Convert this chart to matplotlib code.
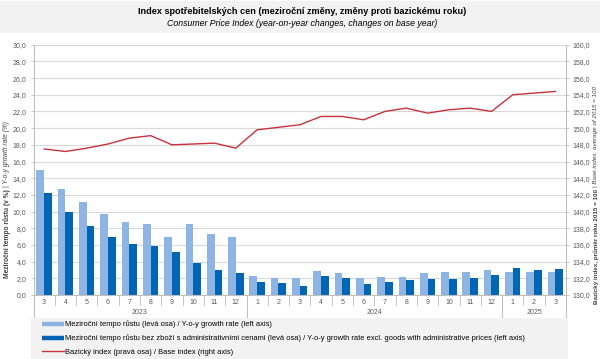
import matplotlib
matplotlib.use("Agg")
import matplotlib.pyplot as plt
import matplotlib.transforms as mtransforms
from matplotlib.patches import Rectangle
from matplotlib.lines import Line2D
from matplotlib.ticker import FuncFormatter, MultipleLocator

plt.rcParams['font.family'] = ['Liberation Sans', 'DejaVu Sans']

months = ['3', '4', '5', '6', '7', '8', '9', '10', '11', '12',
          '1', '2', '3', '4', '5', '6', '7', '8', '9', '10', '11', '12',
          '1', '2', '3']
years = ['2023', '2024', '2025']
year_counts = [10, 12, 3]

yoy = [15.0, 12.7, 11.1, 9.7, 8.8, 8.5, 6.9, 8.5, 7.3, 6.9,
       2.3, 2.0, 2.0, 2.9, 2.6, 2.0, 2.2, 2.2, 2.6, 2.8, 2.8, 3.0,
       2.8, 2.7, 2.7]
yoy_excl = [12.2, 10.0, 8.3, 7.0, 6.1, 5.9, 5.2, 3.8, 3.0, 2.6,
            1.6, 1.4, 1.1, 2.3, 2.0, 1.3, 1.6, 1.8, 1.9, 1.9, 2.0, 2.4,
            3.2, 3.0, 3.1]
base_index = [147.5, 147.2, 147.6, 148.1, 148.8, 149.1, 148.0, 148.1, 148.2, 147.6,
              149.8, 150.1, 150.4, 151.4, 151.4, 151.0, 152.0, 152.4, 151.8, 152.2, 152.4, 152.0,
              154.0, 154.2, 154.4]

title_cz = 'Index spotřebitelských cen (meziroční změny, změny proti bazickému roku)'
title_en = 'Consumer Price Index (year-on-year changes, changes on base year)'
leg_labels = ['Meziroční tempo růstu (levá osa) / Y-o-y growth rate (left axis)',
              'Meziroční tempo růstu bez zboží s administrativními cenami (levá osa) / Y-o-y growth rate excl. goods with administrative prices (left axis)',
              'Bazický index (pravá osa) / Base index (right axis)']

C_LIGHT = '#8DB4E2'
C_DARK = '#0066B3'
C_RED = '#C8323C'
C_GRID = '#D9D9D9'
C_TXT = '#595959'
C_SEP = '#BFBFBF'

W, H = 604, 359
fig = plt.figure(figsize=(W / 100, H / 100), dpi=100)

# Title band
fig.patches.append(Rectangle((0, 1 - 33 / H), 600 / W, 32 / H, transform=fig.transFigure,
                             facecolor='#F2F2F2', edgecolor='none', zorder=0))
fig.text(302 / W, 1 - 12 / H, title_cz, ha='center', va='center', fontsize=6.6, fontweight='bold')
fig.text(302 / W, 1 - 24 / H, title_en, ha='center', va='center', fontsize=6.3, style='italic')

left, right, top, bottom = 33.5, 566, 44.7, 295
ax = fig.add_axes([left / W, 1 - bottom / H, (right - left) / W, (bottom - top) / H])
x = list(range(len(months)))
bw = 0.36
ax.bar([i - bw / 2 for i in x], yoy, width=bw, color=C_LIGHT, zorder=2)
ax.bar([i + bw / 2 for i in x], yoy_excl, width=bw, color=C_DARK, zorder=2)
ax.set_xlim(-0.5, len(months) - 0.5)
ax.set_ylim(0, 30)
ax.yaxis.set_major_locator(MultipleLocator(2))
fmt = FuncFormatter(lambda v, p: f'{v:.1f}'.replace('.', ','))
ax.yaxis.set_major_formatter(fmt)
ax.grid(axis='y', color=C_GRID, linewidth=0.8, zorder=0)
ax.set_axisbelow(True)
for s in ['top', 'right']:
    ax.spines[s].set_visible(False)
ax.spines['left'].set_color(C_SEP)
ax.spines['left'].set_linewidth(0.8)
ax.spines['bottom'].set_color(C_SEP)
ax.spines['bottom'].set_linewidth(0.8)
ax.tick_params(axis='y', labelsize=5, colors=C_TXT, length=2.5, width=0.6, color=C_SEP, pad=2.5)
ax.set_xticks(x)
ax.set_xticklabels(months)
ax.tick_params(axis='x', labelsize=5, colors=C_TXT, length=0, pad=3)

ax2 = ax.twinx()
ax2.plot(x, base_index, color=C_RED, linewidth=1.0, zorder=3)
ax2.set_ylim(130, 160)
ax2.yaxis.set_major_locator(MultipleLocator(2))
ax2.yaxis.set_major_formatter(fmt)
for s in ['top', 'left', 'bottom']:
    ax2.spines[s].set_visible(False)
ax2.spines['right'].set_color(C_SEP)
ax2.spines['right'].set_linewidth(0.8)
ax2.tick_params(axis='y', labelsize=5, colors=C_TXT, length=2.5, width=0.6, color=C_SEP, pad=2)

# multi-level category separators
trans = mtransforms.blended_transform_factory(ax.transData, ax.transAxes)
ah = bottom - top
def ay(px):
    return -(px - bottom) / ah
for b in range(1, len(months)):
    ax.plot([b - 0.5, b - 0.5], [0, ay(305)], transform=trans, color=C_SEP, lw=0.6, clip_on=False)
start = 0
bounds = [-0.5]
for yr, n in zip(years, year_counts):
    ax.text(start + n / 2 - 0.5, ay(313), yr, transform=trans, ha='center', va='center',
            fontsize=5, color=C_TXT)
    start += n
    bounds.append(start - 0.5)
for b in bounds:
    ax.plot([b, b], [0, ay(317)], transform=trans, color=C_SEP, lw=0.8, clip_on=False)

# axis titles (rotated, two-part)
fig.text(7 / W, 1 - 187 / H, 'Meziroční tempo růstu (v %) ', rotation=90, ha='center', va='top',
         fontsize=4.8, fontweight='bold', color='#404040')
fig.text(7 / W, 1 - 187 / H, '| Y-o-y growth rate (%)', rotation=90, ha='center', va='bottom',
         fontsize=4.8, style='italic', color='#404040')
fig.text(596 / W, 1 - 187 / H, 'Bazický index, průměr roku 2015 = 100 ', rotation=90, ha='center', va='top',
         fontsize=4.5, fontweight='bold', color='#404040')
fig.text(596 / W, 1 - 187 / H, '| Base index, average of 2015 = 100', rotation=90, ha='center', va='bottom',
         fontsize=4.5, style='italic', color='#404040')

# legend
fig.patches.append(Rectangle((31 / W, 0), (568 - 31) / W, (H - 318) / H, transform=fig.transFigure,
                             facecolor='#F2F2F2', edgecolor='none', zorder=0))
handles = [Line2D([], [], color=C_LIGHT, lw=3.2, solid_capstyle='butt'),
           Line2D([], [], color=C_DARK, lw=3.2, solid_capstyle='butt'),
           Line2D([], [], color=C_RED, lw=1.0)]
fig.legend(handles, leg_labels, loc='upper left', bbox_to_anchor=(40 / W, 1 - 319 / H),
           frameon=False, fontsize=5.4, handlelength=3.0, handletextpad=0.15,
           labelspacing=0.85, borderaxespad=0, borderpad=0.2)

fig.savefig('out.png', dpi=100)
